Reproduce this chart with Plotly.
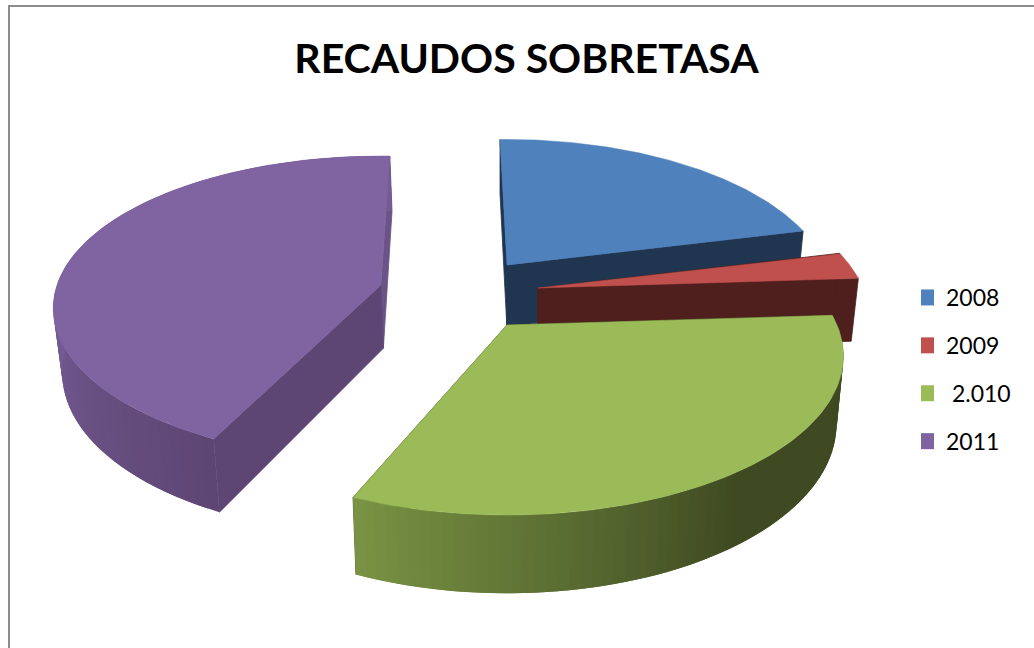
import numpy as np
import plotly.graph_objects as go

categories = ["2008", "2009", " 2.010", "2011"]
shares = [21.6, 2.8, 32.68, 42.92]
top_colors = ["#4f81bd", "#c0504d", "#9bbb59", "#8064a2"]
wall_colors = ["#1f3550", "#4f1f1e", "#3f4a22", "#5e4674"]
title_text = "RECAUDOS SOBRETASA"

# layout of the exploded 3-D pie (pixels of the 1034x648 page)
START_DEG = -1.5
apex = {"2008": (507, 265), "2009": (538, 288), " 2.010": (507, 325), "2011": (381, 285)}
radius = {"2008": 319, "2009": 325, " 2.010": 330, "2011": 324}
squash = {"2008": 150, "2009": 153, " 2.010": 153, "2011": 148.6}
persp = {"2008": 0.195, "2009": 0.195, " 2.010": 0.195, "2011": 0.152}


def warp(cat, phi):
    # small per-slice angle correction for the lens distortion of the exploded view
    phi = np.asarray(phi, float)
    if cat == " 2.010":
        return phi - 1.5 * np.clip((phi - 150) / 54, 0, 1)
    if cat == "2011":
        return phi + 2.5 * np.clip((260 - phi) / 56, 0, 1) + 3.3 * np.clip((phi - 300) / 58.5, 0, 1)
    return phi


def project(cat, phi):
    ax, ay = apex[cat]
    r = np.radians(warp(cat, phi))
    X, Y = np.sin(r), -np.cos(r)
    s = 1 / (1 - persp[cat] * Y)
    return ax + radius[cat] * X * s, ay + squash[cat] * Y * s


def drop(x, y):
    d = 62 + (np.asarray(y) - 265) * 0.065
    return 500 + (np.asarray(x) - 500) * 0.98, np.asarray(y) + d


def hex2rgb(h):
    return np.array([int(h[i:i + 2], 16) for i in (1, 3, 5)], float)


def mix(a, b, t):
    c = hex2rgb(a) * (1 - t) + hex2rgb(b) * t
    return "rgb(%d,%d,%d)" % tuple(c)


fig = go.Figure()


def poly(xs, ys, color, lw=0):
    xs, ys = list(xs), list(ys)
    fig.add_trace(go.Scatter(x=xs + xs[:1], y=ys + ys[:1], mode="lines", fill="toself",
                             fillcolor=color, line=dict(color=color, width=lw),
                             hoverinfo="skip", showlegend=False))


total = sum(shares)
edges = np.cumsum([0] + shares) / total * 360 + START_DEG
wedges = {c: (edges[i], edges[i + 1], i) for i, c in enumerate(categories)}

# painter's order: back to front
for cat in ["2011", "2008", "2009", " 2.010"]:
    a0, a1, i = wedges[cat]
    ax, ay = apex[cat]
    bax, bay = drop(ax, ay)
    # straight inner walls
    for phi, col in ((a1, wall_colors[i] if cat != "2011" else "#6a5386"), (a0, wall_colors[i])):
        ex, ey = project(cat, phi)
        bx, by = drop(ex, ey)
        poly([ax, ex, bx, bax], [ay, ey, by, bay], col, lw=0.8)
    # curved outer wall, shaded strip by strip; each strip overlaps the next to hide seams
    if a1 > 85:
        phis = np.linspace(max(a0, 85), a1, 70)
        for k in range(len(phis) - 1):
            p0, p1 = phis[k], phis[min(k + 2, len(phis) - 1)]
            x0, y0 = project(cat, p0)
            xm, ym = project(cat, (p0 + p1) / 2)
            x1, y1 = project(cat, p1)
            bx0, by0 = drop(x0, y0)
            bxm, bym = drop(xm, ym)
            bx1, by1 = drop(x1, y1)
            pm = (phis[k] + phis[k + 1]) / 2
            if cat == " 2.010":
                t = np.clip((a1 - pm) / 60, 0, 1)
                col = mix("#7a9444", "#3f4a22", t)
            elif cat == "2011":
                t = np.clip((pm - a0) / 60, 0, 1)
                col = mix("#5e4674", "#745b93", t)
            else:
                col = wall_colors[i]
            poly([x0, xm, x1, bx1, bxm, bx0], [y0, ym, y1, by1, bym, by0], col)
    # top face
    ph = np.linspace(a0, a1, 120)
    tx, ty = project(cat, ph)
    poly(np.r_[ax, tx], np.r_[ay, ty], top_colors[i], lw=0.5)

# legend entries
for c, col in zip(categories, top_colors):
    fig.add_trace(go.Scatter(x=[None], y=[None], mode="markers", name=c, legendgroup=c,
                             marker=dict(symbol="square", size=16, color=col)))

fig.update_layout(
    width=1034, height=648, autosize=False,
    margin=dict(l=0, r=0, t=0, b=0),
    paper_bgcolor="white", plot_bgcolor="white",
    title=dict(text="<b>%s</b>" % title_text, x=526.5 / 1034, xanchor="center", y=0.91, yanchor="middle",
               font=dict(family="Lato", size=41, color="black")),
    xaxis=dict(range=[0, 1034], visible=False, fixedrange=True),
    yaxis=dict(range=[648, 0], visible=False, fixedrange=True),
    legend=dict(x=921 / 1034, y=1 - 276 / 648, xanchor="left", yanchor="top",
                font=dict(family="Lato", size=23, color="black"),
                tracegroupgap=15, indentation=-15, bgcolor="rgba(0,0,0,0)"),
    shapes=[dict(type="line", xref="x", yref="y", x0=9, x1=9, y0=6, y1=648, line=dict(color="#8c8c8c", width=2)),
            dict(type="line", xref="x", yref="y", x0=8, x1=1034, y0=6, y1=6, line=dict(color="#8c8c8c", width=2))],
)
fig.write_html("out.html", config={"displayModeBar": False},
               post_script="document.body.style.margin='0';document.body.style.overflow='hidden';")
